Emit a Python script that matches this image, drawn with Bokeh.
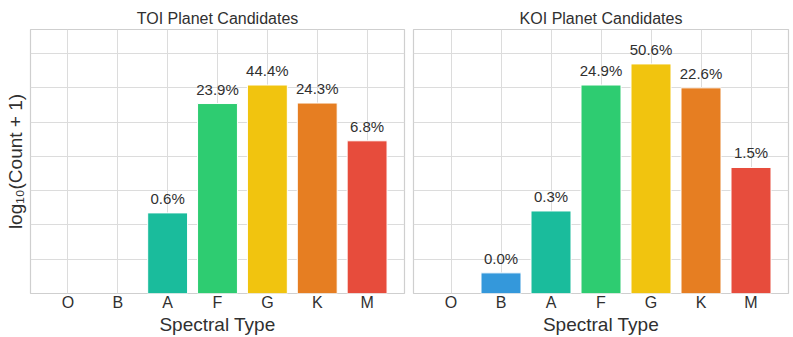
import numpy as np
from bokeh.plotting import figure
from bokeh.models import (FactorRange, Range1d, SingleIntervalTicker, FixedTicker, ColumnDataSource,
                          LabelSet, CDSView, BooleanFilter)
from bokeh.core.properties import value
from bokeh.layouts import row
from bokeh.embed import file_html
from bokeh.resources import INLINE

spectral_types = ["O", "B", "A", "F", "G", "K", "M"]
type_colors = ["#9b59b6", "#3498db", "#1abc9c", "#2ecc71", "#f1c40f", "#e67e22", "#e74c3c"]

toi_counts = [0, 0, 14, 590, 1100, 600, 168]
toi_pct_labels = ["", "", "0.6%", "23.9%", "44.4%", "24.3%", "6.8%"]

koi_counts = [0, 1, 15, 1100, 2235, 1000, 68]
koi_pct_labels = ["", "0.0%", "0.3%", "24.9%", "50.6%", "22.6%", "1.5%"]

FONT = "Liberation Sans"
TXT = "#303030"
GRID = "#dcdcdc"

y_top = max(np.log10(np.array(toi_counts) + 1).max(), np.log10(np.array(koi_counts) + 1).max()) * 1.15


def make_panel(title, counts, labels, width, left_border, right_border, show_ylabel):
    logc = np.log10(np.array(counts, dtype=float) + 1)
    src = ColumnDataSource(dict(x=spectral_types, top=logc, color=type_colors, label=labels))
    view = CDSView(filter=BooleanFilter([c > 0 for c in counts]))
    p = figure(
        x_range=FactorRange(*spectral_types, range_padding=0.25, range_padding_units="absolute"),
        y_range=Range1d(0, y_top),
        width=width, height=337,
        output_backend="svg", toolbar_location=None, tools="",
        min_border_left=left_border, min_border_right=right_border,
        min_border_top=29, min_border_bottom=44,
        title=title,
    )
    p.title.align = "center"
    p.title.text_font = FONT
    p.title.text_font_size = "16px"
    p.title.text_font_style = "normal"
    p.title.text_color = TXT
    p.title.standoff = 5

    p.vbar(x="x", top="top", bottom=0, width=0.8, source=src, view=view,
           fill_color="color", line_color="white", line_width=1)

    p.add_layout(LabelSet(x="x", y="top", text="label", source=src,
                          text_align="center", text_baseline="alphabetic", y_offset=9,
                          text_font=value(FONT), text_font_size=value("15px"), text_color=TXT))

    p.outline_line_color = "#cfcfcf"
    p.outline_line_width = 1.2
    p.background_fill_color = "white"
    p.border_fill_color = "white"

    p.xgrid.grid_line_color = GRID
    p.ygrid.grid_line_color = GRID
    p.ygrid.ticker = SingleIntervalTicker(interval=0.5)

    p.xaxis.axis_label = "Spectral Type"
    p.xaxis.axis_label_text_font = FONT
    p.xaxis.axis_label_text_font_size = "19px"
    p.xaxis.axis_label_text_font_style = "normal"
    p.xaxis.axis_label_text_color = TXT
    p.xaxis.axis_label_standoff = 0
    p.xaxis.major_label_text_font = FONT
    p.xaxis.major_label_text_font_size = "16px"
    p.xaxis.major_label_text_color = TXT
    p.xaxis.major_label_standoff = 0
    p.xaxis.major_tick_line_color = None
    p.xaxis.major_tick_out = 0
    p.xaxis.major_tick_in = 0
    p.xaxis.axis_line_color = None

    if show_ylabel:
        p.yaxis.ticker = FixedTicker(ticks=[])
        p.yaxis.axis_label = "log\u2081\u2080(Count + 1)"
        p.yaxis.axis_label_text_font = FONT
        p.yaxis.axis_label_text_font_size = "19px"
        p.yaxis.axis_label_text_font_style = "normal"
        p.yaxis.axis_label_text_color = TXT
        p.yaxis.axis_label_standoff = 5
        p.yaxis.major_label_standoff = 0
        p.yaxis.major_tick_line_color = None
        p.yaxis.minor_tick_line_color = None
        p.yaxis.major_tick_out = 0
        p.yaxis.major_tick_in = 0
        p.yaxis.minor_tick_out = 0
        p.yaxis.axis_line_color = None
    else:
        p.yaxis.visible = False
    return p


p1 = make_panel("TOI Planet Candidates", toi_counts, toi_pct_labels, 408, 30, 4, True)
p2 = make_panel("KOI Planet Candidates", koi_counts, koi_pct_labels, 385, 5, 5, False)

layout = row(p1, p2)
open("out.html", "w").write(file_html(layout, INLINE))
